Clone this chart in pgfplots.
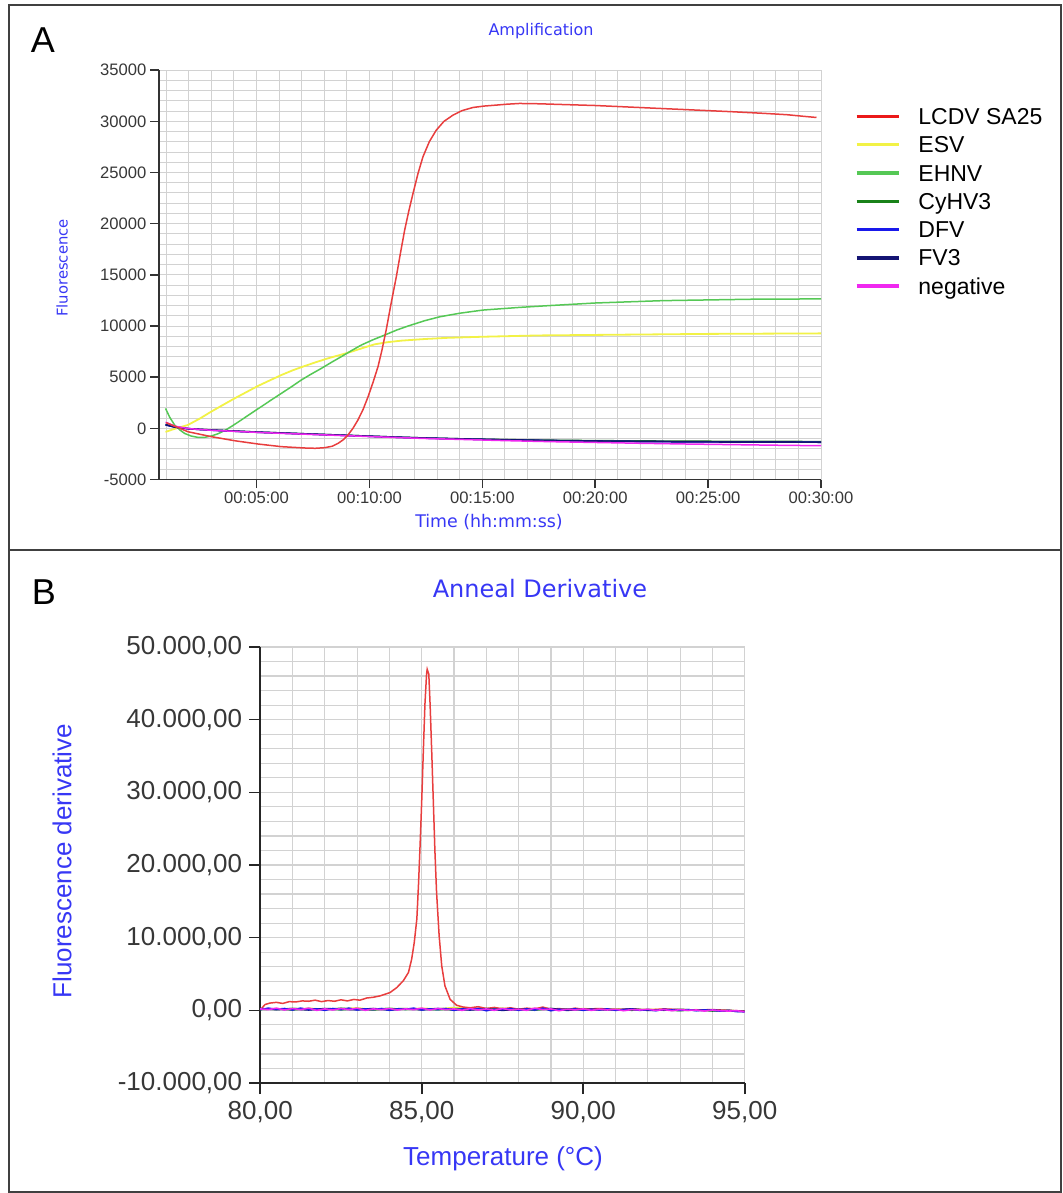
\documentclass[border=0pt]{standalone}
\usepackage{fontspec}
\setmainfont{Liberation Sans}
\newfontfamily\dejavu{DejaVu Sans}
\usepackage{pgfplots}
\pgfplotsset{compat=1.18}
\definecolor{titleblue}{RGB}{55,55,245}
\definecolor{tickgrey}{RGB}{55,55,55}
\definecolor{gridgrey}{RGB}{210,210,210}
\definecolor{cRed}{RGB}{232,62,62}
\definecolor{cRedL}{RGB}{235,25,25}
\definecolor{cYel}{RGB}{242,242,70}
\definecolor{cGreen}{RGB}{85,200,85}
\definecolor{cDGreen}{RGB}{25,130,25}
\definecolor{cBlue}{RGB}{25,25,235}
\definecolor{cNavy}{RGB}{20,20,115}
\definecolor{cMag}{RGB}{240,40,240}
\begin{document}
\begin{tikzpicture}
\useasboundingbox (0,0) rectangle (531pt,-596.5pt);
\draw[line width=1pt, black!75] (4.5pt,-2.5pt) rectangle (530.5pt,-596pt);
\draw[line width=1.2pt, black!75] (4.5pt,-275pt) -- (530.5pt,-275pt);
\node[font=\fontsize{18}{20}\selectfont] at (21.5pt,-20pt) {A};
\node[font=\fontsize{18}{20}\selectfont] at (22pt,-296pt) {B};
\node[font=\dejavu\fontsize{8}{9}\selectfont, text=titleblue] at (270.5pt,-15.5pt) {Amplification};
\node[font=\dejavu\fontsize{12}{14}\selectfont, text=titleblue] at (270pt,-294.5pt) {Anneal Derivative};
\node[rotate=90, font=\dejavu\fontsize{7.4}{8}\selectfont, text=titleblue] at (31pt,-134pt) {Fluorescence};
\node[font=\dejavu\fontsize{8.7}{10}\selectfont, text=titleblue] at (244.5pt,-261pt) {Time (hh:mm:ss)};
\node[rotate=90, font=\fontsize{13}{15}\selectfont, text=titleblue] at (31pt,-430.5pt) {Fluorescence derivative};
\node[font=\fontsize{13}{15}\selectfont, text=titleblue] at (251.5pt,-579.5pt) {Temperature (°C)};

% ---------------- Panel A ----------------
\begin{axis}[
  at={(79.5pt,-239.75pt)}, anchor=south west, scale only axis,
  width=331pt, height=204.65pt,
  xmin=0.68, xmax=30, ymin=-5000, ymax=35000,
  scaled ticks=false,
  axis lines=left, axis line style={-, black!80, line width=0.8pt},
  xtick={5,10,15,20,25,30},
  xticklabels={00:05:00,00:10:00,00:15:00,00:20:00,00:25:00,00:30:00},
  ytick={-5000,0,5000,10000,15000,20000,25000,30000,35000},
  yticklabels={-5000,0,5000,10000,15000,20000,25000,30000,35000},
  minor xtick={1,2,...,30}, minor ytick={-5000,-4000,...,35000},
  grid=both, grid style={gridgrey, line width=0.5pt},
  major grid style={gridgrey, line width=0.5pt},
  minor grid style={gridgrey, line width=0.5pt},
  tick align=outside, major tick length=4.3pt, minor tick length=0pt,
  tick style={black!80, line width=0.8pt},
  ticklabel style={font=\fontsize{8.3}{9}\selectfont, text=tickgrey},
  xticklabel style={yshift=1.5pt},
  yticklabel style={xshift=1.5pt},
  legend cell align=left,
  legend image code/.code={\draw[#1, line width=1.7pt] (0pt,1pt) -- (21pt,1pt);},
  legend style={at={(1.0514,0.908)}, anchor=north west, draw=none, fill=none,
    inner sep=0pt, outer sep=0pt, font=\fontsize{11.5}{12}\selectfont,
    column sep=9pt, row sep=3.65pt,
    nodes={inner sep=0pt, text height=8.3pt, text depth=2.2pt}},
]
\addlegendimage{cRedL}\addlegendentry{LCDV SA25}
\addlegendimage{cYel}\addlegendentry{ESV}
\addlegendimage{cGreen}\addlegendentry{EHNV}
\addlegendimage{cDGreen}\addlegendentry{CyHV3}
\addlegendimage{cBlue}\addlegendentry{DFV}
\addlegendimage{cNavy}\addlegendentry{FV3}
\addlegendimage{cMag}\addlegendentry{negative}
% ESV
\addplot[forget plot, cYel, line width=0.9pt] coordinates {
(0.97,-350) (1.3,-100) (1.96,330) (2.5,970) (2.99,1630) (3.5,2270) (4.03,2930)
(4.55,3540) (5.06,4140) (5.6,4700) (6.10,5210) (6.6,5670) (7.13,6090) (7.65,6480)
(8.16,6840) (8.7,7170) (9.20,7490) (9.7,7850) (10.23,8210) (10.8,8420) (11.41,8570)
(12.45,8730) (13.5,8850) (15,8950) (17.5,9080) (21,9150) (25,9230) (30,9280)};
% EHNV
\addplot[forget plot, cGreen, line width=0.75pt] coordinates {
(0.97,1950) (1.15,1100) (1.37,330) (1.6,-150) (1.81,-490) (2.1,-750) (2.40,-880)
(2.7,-880) (2.99,-750) (3.3,-520) (3.58,-230) (3.95,270) (4.32,810) (4.75,1450)
(5.21,2120) (5.65,2770) (6.10,3420) (6.55,4070) (6.98,4720) (7.42,5300) (7.87,5860)
(8.3,6430) (8.75,7000) (9.2,7590) (9.64,8140) (10.15,8650) (10.68,9120) (11.2,9600)
(11.71,10000) (12.45,10520) (13.11,10900) (14,11250) (15.03,11560) (16.65,11820)
(18,12000) (20,12250) (23,12480) (27,12620) (30,12650)};
% CyHV3
\addplot[forget plot, cDGreen, line width=0.75pt] coordinates {
(0.97,380) (1.4,130) (2,-30) (3,-160) (4,-260) (5,-360) (6,-440) (7,-520) (8,-600)
(9,-680) (10,-760) (11,-840) (12.45,-940) (14,-1020) (16,-1100) (18,-1160) (20,-1200)
(22,-1230) (24,-1250) (26,-1270) (28,-1280) (30,-1290)};
% DFV
\addplot[forget plot, cBlue, line width=0.75pt] coordinates {
(0.97,330) (1.4,110) (2,-50) (3,-180) (4,-280) (5,-380) (6,-460) (7,-540) (8,-620)
(9,-700) (10,-780) (11,-860) (12.45,-960) (14,-1040) (16,-1130) (18,-1200) (20,-1260)
(22,-1290) (24,-1320) (26,-1340) (28,-1350) (30,-1360)};
% FV3
\addplot[forget plot, cNavy, line width=0.85pt] coordinates {
(0.97,350) (1.4,120) (2,-40) (3,-170) (4,-270) (5,-370) (6,-450) (7,-530) (8,-610)
(9,-690) (10,-770) (11,-850) (12.45,-950) (14,-1030) (16,-1120) (18,-1190) (20,-1240)
(22,-1280) (24,-1310) (26,-1330) (28,-1340) (30,-1350)};
% negative
\addplot[forget plot, cMag, line width=0.75pt] coordinates {
(0.97,600) (1.4,200) (2,-30) (3,-190) (4,-290) (5,-390) (6,-480) (7,-560) (8,-640)
(9,-720) (10,-800) (11,-880) (12.45,-990) (14,-1080) (16,-1200) (18,-1300) (20,-1380)
(22,-1460) (24,-1530) (26,-1590) (28,-1650) (30,-1700)};
% LCDV SA25
\addplot[forget plot, cRed, line width=0.75pt] coordinates {
(1.00,550) (1.5,100) (1.96,-330) (2.99,-810) (4.03,-1210) (5.06,-1530) (6.10,-1790)
(7.13,-1920) (7.6,-1950) (8.02,-1890) (8.35,-1750) (8.61,-1470) (8.85,-1100)
(9.05,-650) (9.27,0) (9.49,810) (9.72,1850) (9.94,3090) (10.16,4500) (10.38,6030)
(10.55,7600) (10.75,9700) (10.95,12100) (11.19,14810) (11.38,17200) (11.56,19370)
(11.75,21300) (11.93,22960) (12.15,24900) (12.37,26540) (12.65,28000) (12.96,29140)
(13.3,30000) (13.70,30610) (14.1,31050) (14.59,31360) (15.1,31500) (15.62,31590)
(16.1,31680) (16.65,31750) (17.5,31720) (18.5,31650) (20,31550) (21.5,31400)
(23,31250) (24.5,31100) (26,30950) (27.5,30780) (28.5,30650) (29.2,30500) (29.8,30380)};
\end{axis}

% ---------------- Panel B ----------------
\begin{axis}[
  at={(130.1pt,-541.5pt)}, anchor=south west, scale only axis,
  width=242.25pt, height=218pt,
  xmin=80, xmax=95, ymin=-10000, ymax=50000,
  scaled ticks=false,
  axis lines=left, axis line style={-, black!85, line width=0.8pt},
  xtick={80,85,90,95}, xticklabels={{80,00},{85,00},{90,00},{95,00}},
  ytick={-10000,0,10000,20000,30000,40000,50000},
  yticklabels={{-10.000,00},{0,00},{10.000,00},{20.000,00},{30.000,00},{40.000,00},{50.000,00}},
  minor xtick={80,81,...,95}, minor ytick={-10000,-8000,...,50000},
  grid=both, grid style={gridgrey, line width=0.6pt},
  major grid style={gridgrey, line width=0.6pt},
  minor grid style={gridgrey, line width=0.6pt},
  tick align=outside, major tick length=5.5pt, minor tick length=0pt,
  tick style={black!85, line width=0.8pt},
  ticklabel style={font=\fontsize{13}{14}\selectfont, text=tickgrey},
]
\addplot[cYel, line width=0.7pt] coordinates {
(80,150) (80.5,250) (81,100) (81.5,300) (82,150) (82.5,200) (83,350) (83.5,100) (84,250)
(84.5,150) (85,300) (85.5,200) (86,400) (86.5,250) (87,150) (87.5,300) (88,100) (88.5,250)
(89,200) (89.5,100) (90,250) (90.5,150) (91,200) (91.5,50) (92,150) (92.5,100) (93,0)
(93.5,100) (94,-50) (94.5,0) (95,-150)};
\addplot[cGreen, line width=0.7pt] coordinates {
(80,250) (80.5,100) (81,300) (81.5,150) (82,200) (82.5,50) (83,250) (83.5,150) (84,300)
(84.5,100) (85,200) (85.5,50) (86,250) (86.5,150) (87,300) (87.5,100) (88,200) (88.5,0)
(89,250) (89.5,150) (90,100) (90.5,200) (91,50) (91.5,150) (92,100) (92.5,0) (93,150)
(93.5,50) (94,0) (94.5,-50) (95,-100)};
\addplot[cDGreen, line width=0.7pt] coordinates {
(80,100) (80.5,200) (81,50) (81.5,250) (82,100) (82.5,300) (83,150) (83.5,50) (84,200)
(84.5,250) (85,100) (85.5,150) (86,50) (86.5,200) (87,100) (87.5,250) (88,50) (88.5,150)
(89,100) (89.5,200) (90,50) (90.5,100) (91,150) (91.5,0) (92,100) (92.5,50) (93,-50)
(93.5,50) (94,-100) (94.5,0) (95,-150)};
\addplot[cRed, line width=0.75pt] coordinates {
(80.05,300) (80.15,800) (80.3,1000) (80.5,1100) (80.7,950) (80.9,1200) (81.1,1150)
(81.3,1300) (81.5,1250) (81.7,1400) (81.9,1200) (82.1,1350) (82.3,1250) (82.5,1450)
(82.7,1300) (82.9,1500) (83.09,1400) (83.3,1700) (83.5,1800) (83.71,1990) (84.02,2450)
(84.23,3140) (84.43,4070) (84.59,5210) (84.69,7060) (84.77,9360) (84.85,12590)
(84.90,17200) (84.95,22730) (85.00,28720) (85.05,35640) (85.10,42100) (85.15,46250)
(85.17,46940) (85.22,46250) (85.26,42100) (85.31,35640) (85.36,28720) (85.41,21800)
(85.46,16270) (85.54,10270) (85.62,6120) (85.72,3360) (85.88,1510) (86.08,700)
(86.29,450) (86.5,350) (86.75,500) (87,250) (87.25,400) (87.5,200) (87.75,350) (88,150)
(88.25,300) (88.5,200) (88.75,450) (89,150) (89.25,250) (89.5,100) (89.75,300) (90,150)
(90.5,250) (91,100) (91.5,200) (92,50) (92.5,200) (93,100) (93.5,50) (94,100) (94.5,0)
(95,-100)};
\addplot[cNavy, line width=0.8pt] coordinates {
(80,250) (80.5,100) (81,200) (81.5,50) (82,250) (82.5,150) (83,100) (83.5,250) (84,50)
(84.5,200) (85,100) (85.5,250) (86,150) (86.5,50) (87,200) (87.5,0) (88,150) (88.5,100)
(89,250) (89.5,0) (90,150) (90.5,100) (91,50) (91.5,200) (92,0) (92.5,50) (93,100)
(93.5,0) (94,50) (94.5,-100) (95,-150)};
\addplot[cBlue, line width=0.8pt] coordinates {
(80,100) (80.25,300) (80.5,150) (80.75,250) (81,50) (81.25,300) (81.5,100) (81.75,200)
(82,0) (82.25,250) (82.5,100) (82.75,300) (83,50) (83.25,200) (83.5,100) (83.75,250)
(84,0) (84.25,200) (84.5,150) (84.75,300) (85,50) (85.25,200) (85.5,100) (85.75,250)
(86,0) (86.25,200) (86.5,100) (86.75,250) (87,-50) (87.25,150) (87.5,100) (87.75,250)
(88,0) (88.25,200) (88.5,50) (88.75,300) (89,-50) (89.25,150) (89.5,100) (89.75,200)
(90,0) (90.25,150) (90.5,50) (90.75,200) (91,0) (91.25,100) (91.5,150) (91.75,0)
(92,100) (92.25,-50) (92.5,150) (92.75,50) (93,0) (93.25,100) (93.5,-50) (93.75,50)
(94,0) (94.25,-100) (94.5,0) (94.75,-150) (95,-200)};
\addplot[cMag, line width=0.8pt] coordinates {
(80,200) (80.25,100) (80.5,300) (80.75,50) (81,250) (81.25,100) (81.5,300) (81.75,0)
(82,200) (82.25,50) (82.5,250) (82.75,100) (83,300) (83.25,0) (83.5,200) (83.75,100)
(84,250) (84.25,50) (84.5,200) (84.75,100) (85,300) (85.25,50) (85.5,250) (85.75,100)
(86,200) (86.25,0) (86.5,250) (86.75,50) (87,200) (87.25,0) (87.5,250) (87.75,50)
(88,150) (88.25,0) (88.5,300) (88.75,100) (89,200) (89.25,-50) (89.5,150) (89.75,50)
(90,200) (90.25,0) (90.5,150) (90.75,50) (91,150) (91.25,-50) (91.5,100) (91.75,50)
(92,150) (92.25,0) (92.5,100) (92.75,-50) (93,100) (93.25,0) (93.5,50) (93.75,-100)
(94,50) (94.25,-50) (94.5,-100) (94.75,-50) (95,-200)};
\end{axis}
\end{tikzpicture}
\end{document}
